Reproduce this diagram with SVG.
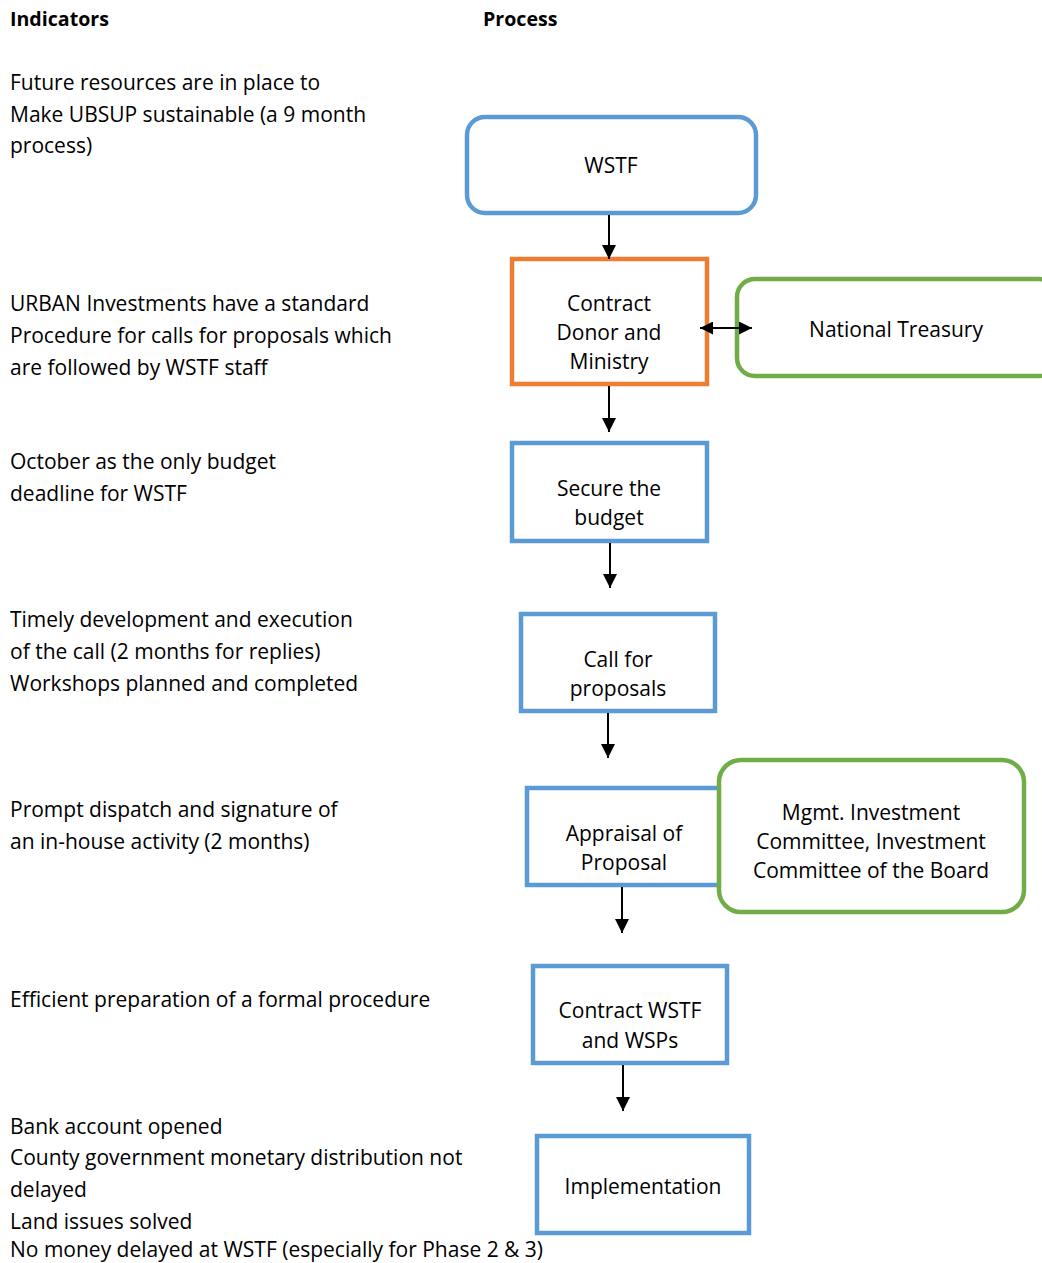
<svg xmlns="http://www.w3.org/2000/svg" width="1042" height="1263" viewBox="0 0 1042 1263">
<defs>
<style>
text{font-family:"Open Sans","Noto Sans","Liberation Sans",sans-serif;font-size:21px;fill:#000}
.h{font-weight:bold;font-size:19.6px}
.c{text-anchor:middle}
.blue{fill:#fff;stroke:#5B9BD5;stroke-width:4.5}
.orange{fill:#fff;stroke:#ED7D31;stroke-width:4.5}
.green{fill:#fff;stroke:#70AD47;stroke-width:4.5}
.conn{stroke:#000;stroke-width:2;fill:none}
</style>
<marker id="ah" viewBox="0 0 14 14" refX="14" refY="7" markerWidth="14" markerHeight="14" orient="auto-start-reverse" markerUnits="userSpaceOnUse"><path d="M0,0 L14,7 L0,14 z" fill="#000"/></marker>
<marker id="ah2" viewBox="0 0 12 12" refX="12" refY="6" markerWidth="13" markerHeight="13" orient="auto-start-reverse" markerUnits="userSpaceOnUse"><path d="M0,0 L12,6 L0,12 z" fill="#000"/></marker>
</defs>
<rect width="1042" height="1263" fill="#fff"/>
<g id="headers">
<text class="h" x="10" y="26">Indicators</text>
<text class="h" x="483" y="26">Process</text>
</g>
<g id="indicators">
<text x="10" y="90">Future resources are in place to</text>
<text x="10" y="122">Make UBSUP sustainable (a 9 month</text>
<text x="10" y="153">process)</text>
<text x="10" y="311">URBAN Investments have a standard</text>
<text x="10" y="343">Procedure for calls for proposals which</text>
<text x="10" y="375">are followed by WSTF staff</text>
<text x="10" y="469">October as the only budget</text>
<text x="10" y="501">deadline for WSTF</text>
<text x="10" y="627">Timely development and execution</text>
<text x="10" y="659">of the call (2 months for replies)</text>
<text x="10" y="691">Workshops planned and completed</text>
<text x="10" y="817">Prompt dispatch and signature of</text>
<text x="10" y="849">an in-house activity (2 months)</text>
<text x="10" y="1007">Efficient preparation of a formal procedure</text>
<text x="10" y="1134">Bank account opened</text>
<text x="10" y="1165">County government monetary distribution not</text>
<text x="10" y="1197">delayed</text>
<text x="10" y="1229">Land issues solved</text>
<text x="10" y="1257">No money delayed at WSTF (especially for Phase 2 &amp; 3)</text>
</g>
<g id="wstf">
<rect class="blue" x="467" y="117" width="289" height="96" rx="18"/>
<text class="c" x="611" y="173">WSTF</text>
</g>
<g id="contract-donor">
<rect class="orange" x="512" y="259" width="195" height="125"/>
<text class="c" x="609" y="311">Contract</text>
<text class="c" x="609" y="340">Donor and</text>
<text class="c" x="609" y="369">Ministry</text>
</g>
<g id="national-treasury">
<rect class="green" x="737" y="279" width="320" height="97" rx="18"/>
<text class="c" x="896" y="337">National Treasury</text>
</g>
<g id="secure-budget">
<rect class="blue" x="512" y="443" width="195" height="98"/>
<text class="c" x="609" y="496">Secure the</text>
<text class="c" x="609" y="525">budget</text>
</g>
<g id="call-for-proposals">
<rect class="blue" x="521" y="614" width="194" height="97"/>
<text class="c" x="618" y="667">Call for</text>
<text class="c" x="618" y="696">proposals</text>
</g>
<g id="appraisal">
<rect class="blue" x="527" y="788" width="193" height="97"/>
<text class="c" x="624" y="841">Appraisal of</text>
<text class="c" x="624" y="870">Proposal</text>
</g>
<g id="committee">
<rect class="green" x="719" y="760" width="305" height="152" rx="22"/>
<text class="c" x="871" y="820">Mgmt. Investment</text>
<text class="c" x="871" y="849">Committee, Investment</text>
<text class="c" x="871" y="878">Committee of the Board</text>
</g>
<g id="contract-wsps">
<rect class="blue" x="533" y="966" width="194" height="97"/>
<text class="c" x="630" y="1018">Contract WSTF</text>
<text class="c" x="630" y="1048">and WSPs</text>
</g>
<g id="implementation">
<rect class="blue" x="537" y="1136" width="212" height="97"/>
<text class="c" x="643" y="1194">Implementation</text>
</g>
<g id="connectors">
<line class="conn" x1="609" y1="215" x2="609" y2="259" marker-end="url(#ah)"/>
<line class="conn" x1="700" y1="328" x2="752" y2="328" stroke-width="1.5" marker-start="url(#ah2)" marker-end="url(#ah2)"/>
<line class="conn" x1="609" y1="386" x2="609" y2="432" marker-end="url(#ah)" stroke-width="1.5"/>
<line class="conn" x1="610" y1="543" x2="610" y2="588" marker-end="url(#ah)"/>
<line class="conn" x1="608" y1="713" x2="608" y2="758" marker-end="url(#ah)"/>
<line class="conn" x1="622" y1="887" x2="622" y2="933" marker-end="url(#ah)"/>
<line class="conn" x1="623" y1="1065" x2="623" y2="1111" marker-end="url(#ah)"/>
</g>
</svg>
